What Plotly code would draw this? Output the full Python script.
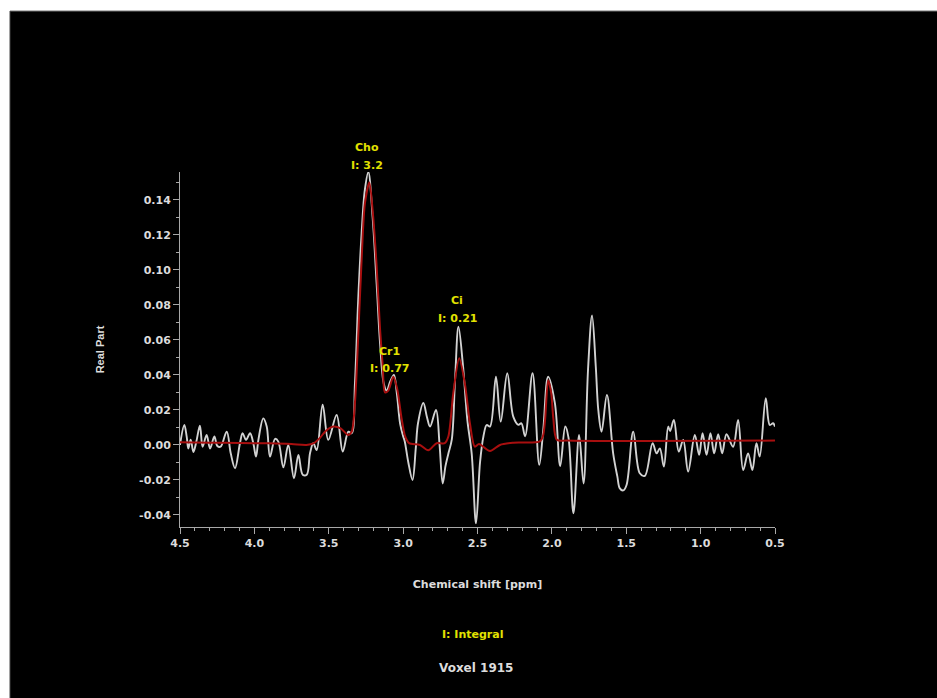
import plotly.graph_objects as go

# ---------------- data ----------------
spec_ppm = [4.500, 4.471, 4.455, 4.444, 4.428, 4.410, 4.390, 4.366, 4.348, 4.321,
            4.298, 4.269, 4.249, 4.227, 4.186, 4.159, 4.130, 4.097, 4.079, 4.056,
            4.029, 4.007, 3.989, 3.973, 3.940, 3.917, 3.895, 3.861, 3.839, 3.805,
            3.772, 3.734, 3.704, 3.675, 3.648, 3.626, 3.604, 3.581, 3.541, 3.503,
            3.447, 3.406, 3.368, 3.346, 3.324, 3.302, 3.279, 3.257, 3.234, 3.205,
            3.178, 3.155, 3.130, 3.110, 3.088, 3.062, 3.043, 3.020, 3.000, 2.989,
            2.965, 2.937, 2.915, 2.900, 2.864, 2.840, 2.819, 2.779, 2.755, 2.734,
            2.715, 2.696, 2.673, 2.651, 2.628, 2.599, 2.568, 2.539, 2.510, 2.483,
            2.460, 2.438, 2.416, 2.376, 2.344, 2.300, 2.259, 2.225, 2.205, 2.180,
            2.130, 2.085, 2.058, 2.025, 1.980, 1.944, 1.910, 1.888, 1.855, 1.817,
            1.787, 1.757, 1.730, 1.705, 1.688, 1.666, 1.630, 1.588, 1.560, 1.543,
            1.520, 1.498, 1.453, 1.409, 1.375, 1.323, 1.296, 1.274, 1.247, 1.218,
            1.205, 1.180, 1.147, 1.117, 1.084, 1.039, 1.010, 0.987, 0.960, 0.934,
            0.909, 0.882, 0.855, 0.826, 0.782, 0.748, 0.714, 0.681, 0.652, 0.625,
            0.603, 0.562, 0.535, 0.513, 0.500]
spec_real = [0.0000, 0.0114, 0.0048, -0.0020, 0.0030, -0.0040, 0.0020, 0.0110, -0.0010, 0.0057,
             -0.0020, 0.0048, -0.0006, -0.0010, 0.0076, -0.0048, -0.0133, 0.0010, 0.0067, 0.0029,
             0.0067, 0.0010, -0.0067, 0.0029, 0.0152, 0.0105, -0.0067, 0.0035, 0.0019, -0.0128,
             0.0000, -0.0190, -0.0057, -0.0170, -0.0170, -0.0048, 0.0010, -0.0029, 0.0230, 0.0029,
             0.0171, -0.0038, 0.0076, 0.0067, 0.0350, 0.0830, 0.1210, 0.1460, 0.1560, 0.1300,
             0.0920, 0.0580, 0.0350, 0.0310, 0.0360, 0.0400, 0.0300, 0.0120, 0.0050, 0.0020,
             -0.0100, -0.0200, -0.0020, 0.0124, 0.0240, 0.0160, 0.0105, 0.0200, 0.0000, -0.0220,
             -0.0120, -0.0050, 0.0030, 0.0370, 0.0676, 0.0467, 0.0140, -0.0050, -0.0448, -0.0100,
             0.0050, 0.0114, 0.0105, 0.0390, 0.0133, 0.0410, 0.0160, 0.0115, 0.0124, 0.0050,
             0.0410, -0.0114, 0.0086, 0.0390, 0.0240, -0.0120, 0.0105, 0.0040, -0.0390, 0.0057,
             -0.0220, 0.0430, 0.0740, 0.0450, 0.0200, 0.0076, 0.0286, -0.0048, -0.0180, -0.0248,
             -0.0260, -0.0229, 0.0076, -0.0162, -0.0177, 0.0010, -0.0048, -0.0020, -0.0124, 0.0105,
             0.0080, 0.0143, -0.0038, 0.0029, -0.0152, 0.0057, -0.0057, 0.0067, -0.0057, 0.0067,
             -0.0048, 0.0061, -0.0048, 0.0061, -0.0010, 0.0143, -0.0143, -0.0048, -0.0143, 0.0010,
             -0.0067, 0.0267, 0.0114, 0.0124, 0.0105]

fit_ppm = [4.500, 4.300, 4.100, 3.900, 3.750, 3.650, 3.600, 3.560, 3.520, 3.470,
           3.420, 3.370, 3.346, 3.324, 3.302, 3.279, 3.257, 3.227, 3.205, 3.178,
           3.155, 3.137, 3.122, 3.100, 3.066, 3.040, 3.010, 2.987, 2.960, 2.887,
           2.831, 2.775, 2.720, 2.696, 2.663, 2.623, 2.585, 2.551, 2.518, 2.490,
           2.416, 2.349, 2.259, 2.080, 2.060, 2.046, 2.025, 2.005, 1.990, 1.967,
           1.900, 0.500]
fit_real = [0.0015, 0.0013, 0.0011, 0.0009, 0.0005, 0.0000, 0.0010, 0.0040, 0.0080, 0.0105,
            0.0095, 0.0057, 0.0075, 0.0240, 0.0620, 0.1060, 0.1380, 0.1500, 0.1340, 0.1020,
            0.0660, 0.0450, 0.0300, 0.0310, 0.0390, 0.0320, 0.0150, 0.0050, 0.0010, 0.0000,
            -0.0030, 0.0010, 0.0010, 0.0048, 0.0295, 0.0495, 0.0350, 0.0124, -0.0010, 0.0005,
            -0.0035, 0.0000, 0.0013, 0.0020, 0.0050, 0.0140, 0.0370, 0.0300, 0.0150, 0.0030,
            0.0025, 0.0025]

peak_names = ["Cho", "Cr1", "Ci"]
peak_integrals = ["3.2", "0.77", "0.21"]

x_tick_vals = [4.5, 4.0, 3.5, 3.0, 2.5, 2.0, 1.5, 1.0, 0.5]
x_tick_text = ["4.5", "4.0", "3.5", "3.0", "2.5", "2.0", "1.5", "1.0", "0.5"]
y_tick_vals = [-0.04, -0.02, 0.00, 0.02, 0.04, 0.06, 0.08, 0.10, 0.12, 0.14]
y_tick_text = ["-0.04", "-0.02", "0.00", "0.02", "0.04", "0.06", "0.08", "0.10", "0.12", "0.14"]

# ---------------- layout geometry (page pixels; body margin removed) ----------------
W, H = 937, 698
ML, MT = 180, 172          # plot area left/top
PLOT_R, PLOT_B = 775, 527  # plot area right/bottom
MR, MB = W - PLOT_R, H - PLOT_B
PW, PH = PLOT_R - ML, PLOT_B - MT


def px(x):  # page pixel -> paper x
    return (x - ML) / PW


def py(y):  # page pixel -> paper y
    return (PLOT_B - y) / PH


YELLOW = "#e2e200"
LIGHT = "#dcdcdc"
AXIS = "#a8a8a8"
FONT = "DejaVu Sans"

fig = go.Figure()
fig.add_trace(go.Scatter(x=spec_ppm, y=spec_real, mode="lines",
                         line=dict(color="#d2d2d2", width=1.9, shape="spline", smoothing=1.0),
                         cliponaxis=False, showlegend=False, name="Real Part", hoverinfo="skip"))
fig.add_trace(go.Scatter(x=fit_ppm, y=fit_real, mode="lines",
                         line=dict(color="#a80f0f", width=2, shape="spline", smoothing=0.8),
                         cliponaxis=False, showlegend=False, name="Fit", hoverinfo="skip"))

annots = []
label_px = [(367, 147, 165), (389, 351, 368), (457, 300, 318)]
for name, integ, (lx, ly1, ly2) in zip(peak_names, peak_integrals, label_px):
    annots.append(dict(x=px(lx), y=py(ly1), xref="paper", yref="paper", text=name,
                       xanchor="center", yanchor="middle", showarrow=False,
                       font=dict(family=FONT, size=11, color=YELLOW, weight="bold")))
    annots.append(dict(x=px(lx), y=py(ly2), xref="paper", yref="paper", text="I: " + integ,
                       xanchor="center", yanchor="middle", showarrow=False,
                       font=dict(family=FONT, size=11, color=YELLOW, weight="bold")))
annots.append(dict(x=px(472), y=py(634), xref="paper", yref="paper", text="I: Integral",
                   xanchor="center", yanchor="middle", showarrow=False,
                   font=dict(family=FONT, size=11, color=YELLOW, weight="bold")))
annots.append(dict(x=px(476), y=py(668), xref="paper", yref="paper", text="Voxel 1915",
                   xanchor="center", yanchor="middle", showarrow=False,
                   font=dict(family=FONT, size=12, color=LIGHT, weight="bold")))

shapes = [
    # white screenshot margins (left and top strips)
    dict(type="rect", xref="paper", yref="paper", x0=px(0), x1=px(10), y0=py(H), y1=py(0),
         fillcolor="white", line=dict(width=0), layer="above"),
    dict(type="rect", xref="paper", yref="paper", x0=px(0), x1=px(W), y0=py(11), y1=py(0),
         fillcolor="white", line=dict(width=0), layer="above"),
    dict(type="line", xref="paper", yref="paper", x0=px(10), x1=px(W), y0=py(11), y1=py(11),
         line=dict(color="#777777", width=1), layer="above"),
    dict(type="line", xref="paper", yref="paper", x0=px(10), x1=px(10), y0=py(11), y1=py(H),
         line=dict(color="#444444", width=1), layer="above"),
]

fig.update_layout(
    width=W, height=H,
    margin=dict(l=ML, r=MR, t=MT, b=MB),
    paper_bgcolor="black", plot_bgcolor="black",
    annotations=annots, shapes=shapes, hovermode=False,
    xaxis=dict(range=[4.5, 0.5], showgrid=False, zeroline=False,
               showline=True, linecolor=AXIS, linewidth=1,
               tickmode="array", tickvals=x_tick_vals, ticktext=x_tick_text,
               ticks="outside", ticklen=6, tickcolor=AXIS,
               minor=dict(tickmode="linear", tick0=0.5, dtick=0.1, ticks="outside",
                          ticklen=3, tickcolor=AXIS),
               tickfont=dict(family=FONT, size=11, color=LIGHT, weight="bold"),
               title=dict(text="Chemical shift [ppm]", standoff=31,
                          font=dict(family=FONT, size=11, color=LIGHT, weight="bold"))),
    yaxis=dict(range=[-0.0469, 0.156], showgrid=False, zeroline=False,
               showline=True, linecolor=AXIS, linewidth=1,
               tickmode="array", tickvals=y_tick_vals, ticktext=y_tick_text,
               ticks="outside", ticklen=6, tickcolor=AXIS,
               minor=dict(tickmode="linear", tick0=0, dtick=0.01, ticks="outside",
                          ticklen=3, tickcolor=AXIS),
               tickfont=dict(family=FONT, size=11, color=LIGHT, weight="bold"),
               title=dict(text="Real Part", standoff=32,
                          font=dict(family="Liberation Sans", size=11, color=LIGHT, weight="bold"))),
)

fig.write_html("out.html", config={"displayModeBar": False},
               post_script="document.body.style.margin='0';document.body.style.overflow='hidden';")
